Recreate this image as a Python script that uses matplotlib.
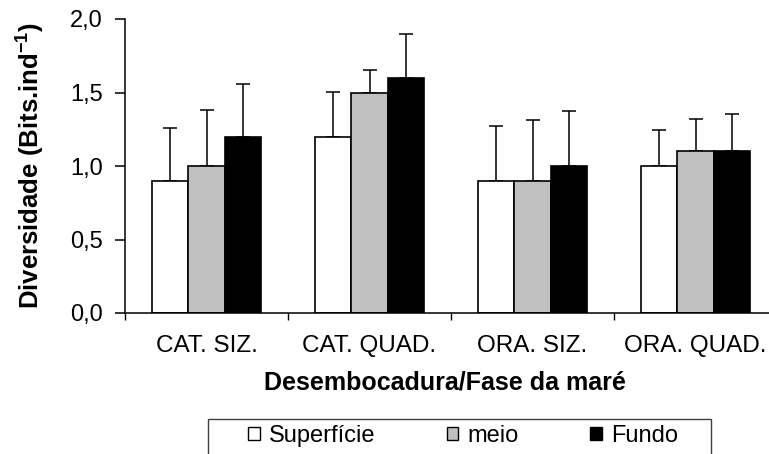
import matplotlib
matplotlib.use("Agg")
import matplotlib.pyplot as plt
import matplotlib.patches as mpatches
from matplotlib.ticker import FuncFormatter
import numpy as np

plt.rcParams['font.family'] = ['Liberation Sans', 'DejaVu Sans']
plt.rcParams['mathtext.default'] = 'regular'

# sampling sites / tide phases
categorias = ['CAT. SIZ.', 'CAT. QUAD.', 'ORA. SIZ.', 'ORA. QUAD.']
camadas = ['Superfície', 'meio', 'Fundo']

# mean diversity per layer
superficie = [0.9, 1.2, 0.9, 1.0]
meio = [1.0, 1.5, 0.9, 1.1]
fundo = [1.2, 1.6, 1.0, 1.1]

# upper standard deviation
dp_superficie = [0.36, 0.305, 0.37, 0.245]
dp_meio = [0.38, 0.155, 0.41, 0.22]
dp_fundo = [0.355, 0.30, 0.375, 0.255]

cores = ['white', '#C0C0C0', 'black']

fig = plt.figure(figsize=(7.69, 4.54), dpi=100)
ax = fig.add_axes([125 / 769, 141 / 454, 652 / 769, 294 / 454])

x = np.arange(len(categorias))
largura = 0.222
series = [superficie, meio, fundo]
erros = [dp_superficie, dp_meio, dp_fundo]

for i, (vals, err) in enumerate(zip(series, erros)):
    pos = x + (i - 1) * largura
    ax.bar(pos, vals, width=largura, color=cores[i], edgecolor='black',
           linewidth=1.2, label=camadas[i], zorder=2)
    ax.errorbar(pos, vals, yerr=[np.zeros(len(err)), err], fmt='none',
                ecolor='black', elinewidth=1.1, capsize=5, capthick=1.1, zorder=1)

ax.set_xlim(-0.5, 3.5)
ax.set_ylim(0, 2.0)
ax.set_yticks([0, 0.5, 1.0, 1.5, 2.0])
ax.yaxis.set_major_formatter(FuncFormatter(lambda v, _: f"{v:.1f}".replace('.', ',')))

# category boundaries get the tick marks, centers get the labels
ax.set_xticks(np.arange(-0.5, 4.0, 1.0))
ax.set_xticklabels([])
ax.set_xticks(x, minor=True)
ax.set_xticklabels(categorias, minor=True)
ax.tick_params(axis='x', which='minor', length=0, pad=16, labelsize=17.5)
ax.tick_params(axis='x', which='major', length=5, width=1, direction='out')
ax.tick_params(axis='y', length=7, width=1.1, direction='out', pad=9, labelsize=17)

for side in ['top', 'right']:
    ax.spines[side].set_visible(False)
for side in ['left', 'bottom']:
    ax.spines[side].set_linewidth(1.1)

ax.set_ylabel('Diversidade (Bits.ind$^{-1}$)', fontsize=18.5, fontweight='bold')
ax.yaxis.set_label_coords(-0.12, 0.5)
ax.set_xlabel('Desembocadura/Fase da maré', fontsize=18, fontweight='bold')
ax.xaxis.set_label_coords(0.49, -0.195)

handles = [mpatches.Patch(facecolor=c, edgecolor='black', linewidth=1) for c in cores]
fig.legend(handles, camadas, loc='center', bbox_to_anchor=(463 / 769, 1 - 436 / 454),
           ncol=3, frameon=False, fontsize=17, handlelength=0.5, handleheight=0.5,
           handletextpad=0.4, columnspacing=3.0)
fig.patches.append(mpatches.Rectangle((208 / 769, -0.05), 503 / 769, 0.05 + 35 / 454,
                                      transform=fig.transFigure, fill=False,
                                      edgecolor='#404040', linewidth=1))

fig.savefig('out.png', dpi=100)
